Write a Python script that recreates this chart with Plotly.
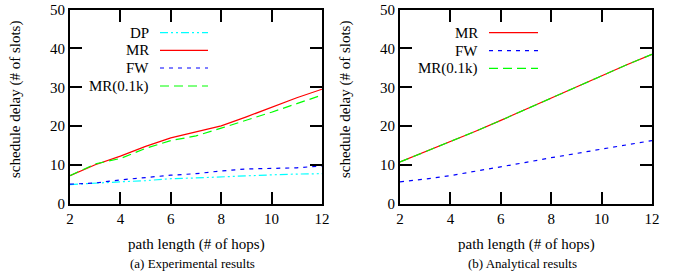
import plotly.graph_objects as go

W, H = 674, 276

hops = [2, 3, 4, 5, 6, 7, 8, 9, 10, 11, 12]

# (a) Experimental results
exp_dp = [5.0, 5.4, 5.7, 6.0, 6.5, 6.7, 7.0, 7.2, 7.5, 7.7, 7.8]
exp_mr = [7.3, 10.1, 12.3, 14.8, 17.0, 18.5, 20.1, 22.4, 24.9, 27.3, 29.5]
exp_fw = [5.1, 5.4, 6.2, 6.8, 7.4, 7.8, 8.5, 9.0, 9.2, 9.3, 9.8]
exp_mr01 = [7.3, 10.3, 11.7, 14.3, 16.3, 17.5, 19.5, 21.5, 23.6, 25.8, 28.0]

# (b) Analytical results
ana_mr = [10.8, 13.4, 16.0, 18.7, 21.5, 24.4, 27.3, 30.2, 33.0, 35.8, 38.5]
ana_fw = [5.7, 6.4, 7.3, 8.4, 9.5, 10.7, 11.9, 13.0, 14.1, 15.2, 16.3]
ana_mr01 = ana_mr

x_ticks = [2, 4, 6, 8, 10, 12]
y_ticks = [0, 10, 20, 30, 40, 50]
x_title = "path length (# of hops)"
y_title = "schedule delay (# of slots)"
captions = ["(a) Experimental results", "(b) Analytical results"]

styles = {
    "DP": dict(color="#00ffff", dash="8px,3px,2px,3px,2px,3px"),
    "MR": dict(color="#ff0000", dash="solid"),
    "FW": dict(color="#0000ff", dash="4px,5px"),
    "MR(0.1k)": dict(color="#00ff00", dash="9px,5px"),
}

FONT = "Liberation Serif, Times New Roman, serif"

fig = go.Figure()

def add(name, y, ax):
    st = styles[name]
    fig.add_trace(go.Scatter(x=hops, y=y, mode="lines", name=name,
                             line=dict(color=st["color"], dash=st["dash"], width=1.2),
                             xaxis="x" + ax, yaxis="y" + ax, showlegend=False,
                             hoverinfo="skip"))

add("DP", exp_dp, "")
add("FW", exp_fw, "")
add("MR", exp_mr, "")
add("MR(0.1k)", exp_mr01, "")
add("FW", ana_fw, "2")
add("MR", ana_mr, "2")
add("MR(0.1k)", ana_mr01, "2")

# convert window pixel positions to paper fractions
def px(x):
    return x / W

def py(y):
    return 1 - y / H

top, bot = 9.5, 204
ydom = [py(bot), py(top)]
axis_common = dict(showline=True, linewidth=2, linecolor="black", mirror="ticks",
                   ticks="inside", ticklen=12, tickwidth=2, tickcolor="black",
                   showgrid=False, zeroline=False, automargin=False,
                   ticklabeloverflow="allow",
                   tickfont=dict(family=FONT, size=15, color="black"))

fig.update_layout(
    template="none",
    width=W, height=H, margin=dict(l=0, r=0, t=0, b=0),
    paper_bgcolor="white", plot_bgcolor="white",
    showlegend=False,
    xaxis=dict(domain=[px(70), px(322)], range=[2, 12], tickvals=x_ticks, anchor="y", **axis_common),
    yaxis=dict(domain=ydom, range=[0, 50], tickvals=y_ticks, anchor="x", **axis_common),
    xaxis2=dict(domain=[px(400), px(652)], range=[2, 12], tickvals=x_ticks, anchor="y2", **axis_common),
    yaxis2=dict(domain=ydom, range=[0, 50], tickvals=y_ticks, anchor="x2", **axis_common),
)

ann = []
shapes = []
for i, (x0, x1) in enumerate([(70, 322), (400, 652)]):
    cx = (x0 + x1) / 2
    ann.append(dict(x=px(cx), y=py(244), xref="paper", yref="paper", text=x_title,
                    showarrow=False, font=dict(family=FONT, size=15, color="black"),
                    xanchor="center", yanchor="middle"))
    ann.append(dict(x=px(cx - 4), y=py(263), xref="paper", yref="paper", text=captions[i],
                    showarrow=False, font=dict(family=FONT, size=13, color="black"),
                    xanchor="center", yanchor="middle"))
    ann.append(dict(x=px(x0 - 55), y=py(100), xref="paper", yref="paper", text=y_title,
                    showarrow=False, textangle=-90, font=dict(family=FONT, size=15, color="black"),
                    xanchor="center", yanchor="middle"))

def legend(names, text_right, line_x0, line_x1, rows):
    for n, r in zip(names, rows):
        st = styles[n]
        ann.append(dict(x=px(text_right), y=py(r), xref="paper", yref="paper", text=n,
                        showarrow=False, font=dict(family=FONT, size=15, color="black"),
                        xanchor="right", yanchor="middle"))
        shapes.append(dict(type="line", xref="paper", yref="paper",
                           x0=px(line_x0), x1=px(line_x1), y0=py(r), y1=py(r),
                           line=dict(color=st["color"], dash=st["dash"], width=1.2)))

legend(["DP", "MR", "FW", "MR(0.1k)"], 151, 160, 208, [32.7, 50.3, 68.0, 86.0])
legend(["MR", "FW", "MR(0.1k)"], 480, 489, 538, [32.7, 50.7, 68.3])

fig.update_layout(annotations=ann, shapes=shapes)
fig.write_html("out.html",
               config={"displayModeBar": False, "staticPlot": True},
               post_script="document.body.style.margin='0px';document.body.style.overflow='hidden';")
